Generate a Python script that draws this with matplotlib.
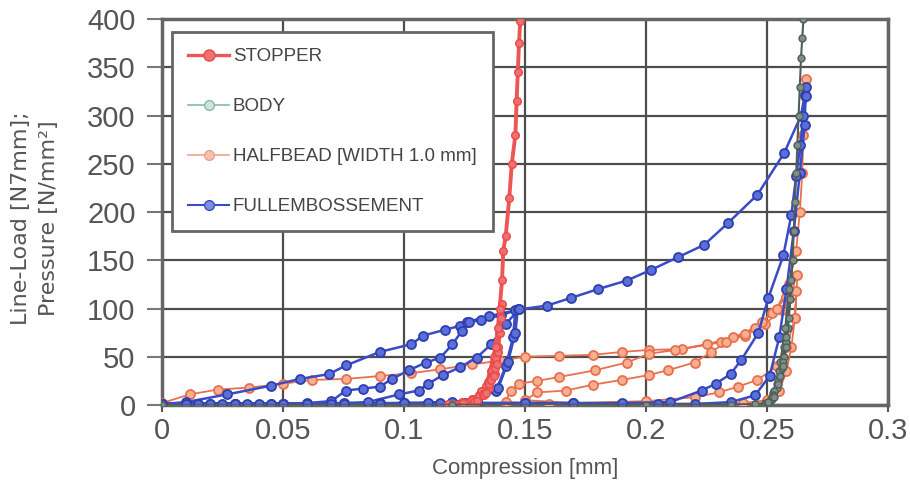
import matplotlib
matplotlib.use('Agg')
import matplotlib.pyplot as plt
from matplotlib.lines import Line2D

plt.rcParams['font.family'] = ['Liberation Sans', 'DejaVu Sans']

# data (several load/unload cycles per sample)
stopper_x = [0.118, 0.124, 0.128, 0.131, 0.133, 0.135, 0.136, 0.137, 0.138, 0.1385,
             0.137, 0.135, 0.132, 0.128, 0.124,
             0.127, 0.131, 0.134, 0.136, 0.138, 0.139, 0.1395, 0.140, 0.1405,
             0.139, 0.137, 0.134, 0.130, 0.126,
             0.129, 0.132, 0.1345, 0.1365, 0.138, 0.1375, 0.135, 0.131, 0.127, 0.1245,
             0.128, 0.1325, 0.135, 0.1375, 0.139, 0.1385, 0.136, 0.133, 0.129,
             0.130, 0.134, 0.137, 0.138, 0.1395, 0.1405, 0.141, 0.142, 0.1435,
             0.1445, 0.146, 0.1465, 0.147, 0.1475, 0.148]
stopper_y = [1, 3, 6, 10, 15, 25, 35, 45, 52, 58,
             40, 25, 12, 4, 1,
             3, 8, 15, 28, 45, 60, 75, 90, 105,
             80, 50, 20, 5, 1,
             6, 14, 24, 36, 48, 32, 18, 9, 3, 2,
             5, 11, 22, 38, 55, 42, 26, 10, 3,
             4, 12, 30, 60, 100, 130, 160, 175, 215,
             250, 280, 315, 345, 375, 398]

body_x = [0.0, 0.12, 0.2, 0.235, 0.245, 0.249, 0.251, 0.2525, 0.254, 0.2555, 0.257, 0.258, 0.2585,
          0.257, 0.255, 0.253, 0.251, 0.249,
          0.252, 0.254, 0.256, 0.258, 0.259, 0.2595, 0.260, 0.2605,
          0.259, 0.2575, 0.2555, 0.253, 0.250,
          0.2525, 0.2545, 0.2565, 0.258, 0.2565, 0.2545, 0.252, 0.2505,
          0.253, 0.2555, 0.258, 0.2595, 0.2605, 0.261, 0.2615, 0.262, 0.2625,
          0.263, 0.2635, 0.264, 0.2645, 0.265]
body_y = [0, 0.3, 0.5, 0.5, 1, 2, 5, 12, 22, 35, 50, 65, 80,
          60, 35, 15, 4, 1,
          6, 18, 38, 65, 90, 110, 130, 150,
          120, 80, 45, 15, 2,
          10, 25, 45, 60, 40, 22, 8, 3,
          8, 30, 70, 110, 150, 180, 210, 240, 270,
          300, 330, 360, 380, 400]

halfbead_x = [0.0, 0.0115, 0.023, 0.036, 0.05, 0.062, 0.076, 0.09, 0.103, 0.115, 0.128, 0.14,
              0.150, 0.164, 0.178, 0.19, 0.201, 0.215, 0.231, 0.241, 0.249, 0.256, 0.262,
              0.2615, 0.260, 0.258, 0.255, 0.25, 0.24, 0.2, 0.16, 0.142,
              0.144, 0.1475, 0.155, 0.164, 0.179, 0.192, 0.201, 0.212, 0.225, 0.236,
              0.245, 0.252, 0.258, 0.2625,
              0.2615, 0.258, 0.254, 0.246, 0.238, 0.23, 0.22, 0.2, 0.17, 0.15,
              0.155, 0.167, 0.178, 0.19, 0.201, 0.209, 0.22, 0.227, 0.233, 0.241,
              0.248, 0.254, 0.259, 0.262, 0.2635, 0.2645, 0.265, 0.2655, 0.266]
halfbead_y = [2, 11, 16, 18, 22, 26, 27, 30, 33, 37, 42, 46,
              50, 51, 52, 55, 57, 58, 65, 72, 84, 98, 118,
              90, 60, 35, 15, 5, 2, 1, 1, 3,
              15, 22, 25, 29, 36, 44, 53, 57, 63, 70,
              80, 95, 112, 135,
              90, 60, 40, 26, 19, 13, 8, 4, 2, 5,
              13, 15, 21, 26, 31, 36, 44, 55, 65, 74,
              86, 100, 125, 160, 200, 240, 280, 320, 338]

fullemb_x = [0.0, 0.01, 0.027, 0.045, 0.057, 0.069, 0.076, 0.09, 0.103, 0.108, 0.117, 0.123, 0.126,
             0.135, 0.146,
             0.145, 0.142, 0.138, 0.13, 0.12, 0.11, 0.1, 0.085, 0.07, 0.05, 0.035, 0.02, 0.0,
             0.01, 0.02, 0.03, 0.04, 0.05, 0.06, 0.07, 0.076, 0.083, 0.09, 0.095, 0.102, 0.109, 0.115, 0.12,
             0.124, 0.127, 0.132, 0.14, 0.147,
             0.146, 0.143, 0.139, 0.13, 0.115, 0.1, 0.09, 0.075, 0.06, 0.045, 0.03, 0.015, 0.0,
             0.015, 0.03, 0.045, 0.06, 0.075, 0.085, 0.098, 0.106, 0.11, 0.116, 0.123, 0.13, 0.136, 0.142, 0.1475,
             0.159, 0.169, 0.18, 0.192, 0.202, 0.213, 0.224, 0.234, 0.246, 0.257, 0.264, 0.2655,
             0.266,
             0.2655, 0.2635, 0.261, 0.258, 0.255, 0.251, 0.245, 0.235, 0.22, 0.205, 0.19, 0.17, 0.15,
             0.13, 0.11, 0.09, 0.07, 0.05, 0.03, 0.0,
             0.025, 0.05, 0.075, 0.1, 0.125, 0.15, 0.17, 0.19, 0.21, 0.223, 0.2287, 0.2349, 0.2394, 0.2464, 0.2505,
             0.2567, 0.26, 0.262, 0.2637, 0.265, 0.266]
fullemb_y = [1, 3, 11, 20, 27, 32, 41, 55, 63, 72, 78, 82, 86,
             92, 98,
             70, 40, 15, 5, 3, 2, 2, 1, 1, 1, 1, 1, 1,
             1, 1, 1, 1.5, 1.5, 2, 4, 15, 17, 19, 27, 36, 44, 49, 63,
             77, 86, 88, 93, 99,
             75, 45, 18, 6, 2, 2, 2, 1, 1, 1, 1, 1, 1,
             1, 1, 1, 1.5, 2, 3, 11, 15, 22, 31, 39, 49, 63, 84, 99,
             103, 111, 120, 129, 140, 153, 166, 189, 218, 261, 300, 321,
             330,
             290, 240, 180, 120, 70, 30, 10, 3, 1, 1, 1, 2, 2,
             2, 2, 1, 1, 1, 1, 1,
             1, 1, 1, 2, 2, 2, 2, 2, 3, 15, 22, 32, 47, 75, 111,
             155, 197, 237, 269, 300, 320]

x_ticks = [0, 0.05, 0.1, 0.15, 0.2, 0.25, 0.3]
x_ticklabels = ['0', '0.05', '0.1', '0.15', '0.2', '0.25', '0.3']
y_ticks = [0, 50, 100, 150, 200, 250, 300, 350, 400]
names = ['STOPPER', 'BODY', 'HALFBEAD [WIDTH 1.0 mm]', 'FULLEMBOSSEMENT']

red = '#ee5555'
grey = '#4f5f58'
teal = '#86b9aa'
salmon = '#e8704f'
blue = '#3a4cc4'

fig = plt.figure(figsize=(9.1, 4.96), dpi=100)
ax = fig.add_axes([0.178, 0.1835, 0.798, 0.778])

ax.plot(halfbead_x, halfbead_y, color=salmon, lw=1.3, marker='o', ms=6.5,
        mfc='#f6b090', mec=salmon, mew=1.3, zorder=3)
ax.plot(fullemb_x, fullemb_y, color=blue, lw=1.8, marker='o', ms=6.5,
        mfc='#5b6fd8', mec='#2f3fb0', mew=1.3, zorder=4)
ax.plot(stopper_x, stopper_y, color=red, lw=2.8, marker='o', ms=5.5,
        mfc='#f07070', mec='#e84a4a', zorder=5)
ax.plot(body_x, body_y, color=grey, lw=1.5, marker='o', ms=5,
        mfc='#7d8f88', mec=grey, zorder=6)

ax.set_xlim(0, 0.3)
ax.set_ylim(0, 400)
ax.set_xticks(x_ticks)
ax.set_xticklabels(x_ticklabels)
ax.set_yticks(y_ticks)
ax.grid(True, color='#4d4d4d', lw=1.6, zorder=1)
ax.set_axisbelow(True)
for s in ax.spines.values():
    s.set_color('#666666')
    s.set_linewidth(2.5)
ax.tick_params(axis='x', direction='out', length=5, width=1.5, pad=4,
               labelsize=21, labelcolor='#555555', color='#555555')
ax.tick_params(axis='y', direction='out', length=11, width=1.5, pad=8,
               labelsize=21, labelcolor='#555555', color='#777777')

ax.set_xlabel('Compression [mm]', fontsize=16, color='#555555', labelpad=9)
fig.text(35 / 910, 1 - 218 / 496, 'Line-Load [N7mm];\nPressure [N/mm²]',
         rotation=90, ha='center', va='center', fontsize=16, color='#555555',
         family=['DejaVu Sans'], linespacing=1.45, multialignment='center')

# legend (drawn in the scan's order, not plot order)
hd = [Line2D([], [], color=red, lw=2.4, marker='o', ms=8, mfc='#f07070', mec='#e84a4a'),
      Line2D([], [], color=teal, lw=1.2, marker='o', ms=7, mfc='#cfe3dc', mec=teal),
      Line2D([], [], color='#f0a090', lw=1.2, marker='o', ms=7, mfc='#f6c0b0', mec='#f0a090'),
      Line2D([], [], color=blue, lw=1.5, marker='o', ms=7, mfc='#8090e0', mec=blue)]
leg = ax.legend(hd, names, loc='upper left', bbox_to_anchor=(0.0138, 0.966),
                borderaxespad=0, fontsize=13.5, handlelength=2.2, handletextpad=0.2,
                labelspacing=1.75, borderpad=0.85, fancybox=False, framealpha=1,
                edgecolor='#666666', labelcolor='#444444')
leg.get_frame().set_linewidth(2)
leg.set_zorder(10)

fig.savefig('out.png', dpi=100)
